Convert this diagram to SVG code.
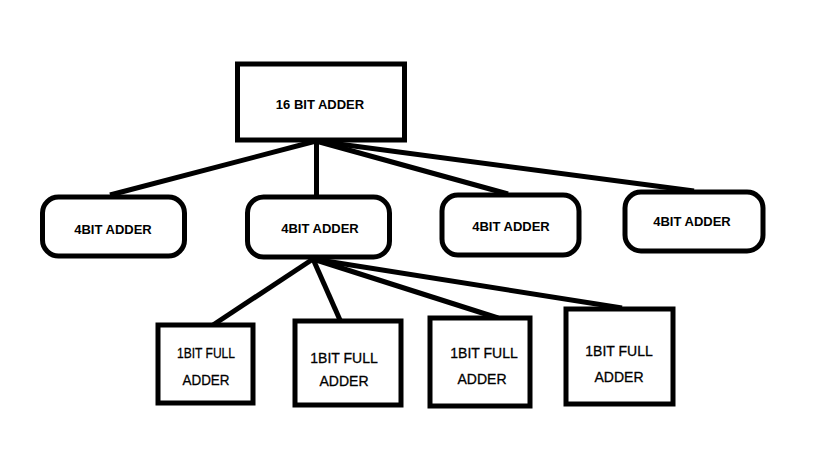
<svg xmlns="http://www.w3.org/2000/svg" width="819" height="460" viewBox="0 0 819 460">
<style>
.box{fill:#fff;stroke:#000;stroke-width:5}
.ln{stroke:#000;stroke-width:5;fill:none}
.t{font-family:"Liberation Sans",Arial,sans-serif;font-weight:bold;font-size:13px;fill:#000;text-anchor:middle}
.s{font-family:"Liberation Sans",Arial,sans-serif;font-size:14px;fill:#000;text-anchor:middle;stroke:#000;stroke-width:0.3}
</style>
<rect width="819" height="460" fill="#fff"/>
<g id="connectors">
<line class="ln" x1="316" y1="141" x2="110" y2="195"/>
<line class="ln" x1="316.5" y1="141" x2="316.5" y2="197"/>
<line class="ln" x1="316" y1="141" x2="508" y2="194"/>
<line class="ln" x1="316" y1="141" x2="694" y2="191"/>
<line class="ln" x1="313" y1="259" x2="213" y2="325"/>
<line class="ln" x1="313" y1="259" x2="340" y2="320"/>
<line class="ln" x1="313" y1="259" x2="498" y2="318"/>
<line class="ln" x1="313" y1="259" x2="622" y2="308"/>
</g>
<g id="n16">
<rect class="box" x="237.5" y="64" width="167" height="76"/>
<text class="t" x="320" y="109">16 BIT ADDER</text>
</g>
<g id="a1">
<rect class="box" x="42.5" y="197" width="142" height="59" rx="16"/>
<text class="t" x="113" y="234">4BIT ADDER</text>
</g>
<g id="a2">
<rect class="box" x="247.5" y="197" width="142" height="60" rx="16"/>
<text class="t" x="320" y="233">4BIT ADDER</text>
</g>
<g id="a3">
<rect class="box" x="442" y="195" width="137" height="60" rx="16"/>
<text class="t" x="511" y="231">4BIT ADDER</text>
</g>
<g id="a4">
<rect class="box" x="625" y="192" width="138" height="59" rx="16"/>
<text class="t" x="692" y="226">4BIT ADDER</text>
</g>
<g id="f1">
<rect class="box" x="158" y="325" width="95" height="78"/>
<text class="s" x="206" y="358" textLength="58" lengthAdjust="spacingAndGlyphs">1BIT FULL</text>
<text class="s" x="206" y="385" textLength="47" lengthAdjust="spacingAndGlyphs">ADDER</text>
</g>
<g id="f2">
<rect class="box" x="295" y="321" width="106" height="84"/>
<text class="s" x="344" y="363">1BIT FULL</text>
<text class="s" x="344" y="386">ADDER</text>
</g>
<g id="f3">
<rect class="box" x="430" y="318" width="100" height="88"/>
<text class="s" x="484" y="358">1BIT FULL</text>
<text class="s" x="482" y="384">ADDER</text>
</g>
<g id="f4">
<rect class="box" x="566" y="309" width="107" height="95"/>
<text class="s" x="619" y="356">1BIT FULL</text>
<text class="s" x="619" y="382">ADDER</text>
</g>
</svg>
